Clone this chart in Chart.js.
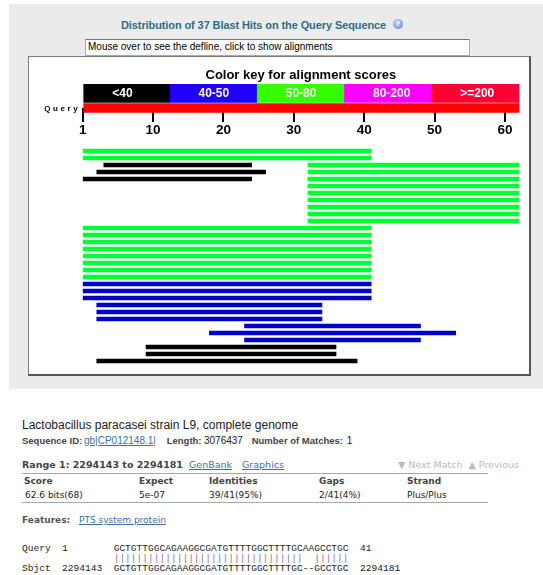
<!DOCTYPE html>
<html>
<head>
<meta charset="utf-8">
<script src="https://cdn.jsdelivr.net/npm/chart.js@4/dist/chart.umd.min.js"></script>
<style>
  body { margin: 0; width: 543px; height: 575px; overflow: hidden; background: #fff; position: relative;
         font-family: "Liberation Sans", Arial, sans-serif; }
  .a { position: absolute; white-space: pre; line-height: 1; }
  .v { font-family: "DejaVu Sans", Verdana, sans-serif; }
  .b { font-weight: bold; }
  .lnk { color: #3d6fa8; text-decoration: underline; }
  .mono { font-family: "Liberation Mono", "Courier New", monospace; font-size: 9.55px; color: #222; }
  #panel { position: absolute; left: 9px; top: 4px; width: 534px; height: 385px; background: #ebebeb; }
  #box { position: absolute; left: 28px; top: 56px; width: 503px; height: 320px; box-sizing: border-box; background: #fff;
         border-top: 1px solid #7a7a7a; border-left: 1px solid #7a7a7a; border-right: 2px solid #555; border-bottom: 2px solid #555; }
  #defline { position: absolute; left: 85px; top: 39px; width: 385px; height: 17px; box-sizing: border-box; background: #fff;
             border: 1px solid #aaa; border-top-color: #777; font-size: 10px; line-height: 1; padding: 2px 0 0 2px; white-space: nowrap; }
  #help { position: absolute; left: 392px; top: 18px; width: 12px; height: 12px; border-radius: 6px; box-sizing: border-box;
          background: radial-gradient(circle at 40% 35%, #c4d4f0, #5b7fc4); border: 1px solid #e8eefa;
          color: #fff; font: bold 8px "Liberation Sans", Arial, sans-serif; text-align: center; line-height: 10px; }
  #keyWrap { position: absolute; left: 29px; top: 57px; width: 500px; height: 88px; }
  #hitWrap { position: absolute; left: 29px; top: 145px; width: 500px; height: 225px; }
  .rule { position: absolute; left: 22px; width: 466px; height: 1px; background: #a8a8a8; }
</style>
</head>
<body>
<div id="panel"></div>
<div class="a b" style="left:121px;top:19.7px;font-size:11px;color:#2e6e83;letter-spacing:-0.1px;">Distribution of 37 Blast Hits on the Query Sequence</div>
<div id="help">?</div>
<div id="box"></div>
<div id="defline">Mouse over to see the defline, click to show alignments</div>
<div id="keyWrap"><canvas id="keyChart"></canvas></div>
<div id="hitWrap"><canvas id="hitChart"></canvas></div>

<div class="a" style="left:22px;top:419.1px;font-size:12px;color:#222;">Lactobacillus paracasei strain L9, complete genome</div>
<div class="a b" style="left:22px;top:436px;font-size:9.5px;color:#444;">Sequence ID:</div>
<div class="a lnk" style="left:84px;top:435.5px;font-size:10px;">gb|CP012148.1|</div>
<div class="a b" style="left:166.7px;top:436px;font-size:9.5px;color:#444;">Length:</div>
<div class="a" style="left:204px;top:435.5px;font-size:10px;color:#222;">3076437</div>
<div class="a b" style="left:251.7px;top:436px;font-size:9.5px;color:#444;">Number of Matches:</div>
<div class="a" style="left:346.7px;top:435.5px;font-size:10px;color:#222;">1</div>

<div class="a v b" style="left:22px;top:460.3px;font-size:9.5px;color:#444;">Range 1: 2294143 to 2294181</div>
<div class="a v lnk" style="left:189px;top:460.3px;font-size:9.5px;">GenBank</div>
<div class="a v lnk" style="left:242px;top:460.3px;font-size:9.5px;">Graphics</div>
<div class="a v" style="left:398px;top:460.3px;font-size:9.5px;color:#bbb;">▼ Next Match  ▲ Previous</div>
<div class="rule" style="top:473px;"></div>

<div class="a v b" style="left:24px;top:477.4px;font-size:9px;color:#444;">Score</div>
<div class="a v b" style="left:139px;top:477.4px;font-size:9px;color:#444;">Expect</div>
<div class="a v b" style="left:209px;top:477.4px;font-size:9px;color:#444;">Identities</div>
<div class="a v b" style="left:319px;top:477.4px;font-size:9px;color:#444;">Gaps</div>
<div class="a v b" style="left:407px;top:477.4px;font-size:9px;color:#444;">Strand</div>
<div class="a v" style="left:25px;top:490.7px;font-size:9px;color:#222;">62.6 bits(68)</div>
<div class="a v" style="left:139px;top:490.7px;font-size:9px;color:#222;">5e-07</div>
<div class="a v" style="left:209px;top:490.7px;font-size:9px;color:#222;">39/41(95%)</div>
<div class="a v" style="left:319px;top:490.7px;font-size:9px;color:#222;">2/41(4%)</div>
<div class="a v" style="left:407px;top:490.7px;font-size:9px;color:#222;">Plus/Plus</div>
<div class="rule" style="top:502px;"></div>

<div class="a v b" style="left:22px;top:515.9px;font-size:9px;color:#555;">Features:</div>
<div class="a v lnk" style="left:79px;top:515.9px;font-size:9px;">PTS system protein</div>

<div class="a mono" style="left:22px;top:544.4px;">Query  1        GCTGTTGGCAGAAGGCGATGTTTTGGCTTTTGCAAGCCTGC  41</div>
<div class="a mono" style="left:22px;top:553.7px;color:#8a7598;">                |||||||||||||||||||||||||||||||||  ||||||</div>
<div class="a mono" style="left:22px;top:563.7px;">Sbjct  2294143  GCTGTTGGCAGAAGGCGATGTTTTGGCTTTTGC--GCCTGC  2294181</div>

<script>
// query and score key
const queryLength = 62;
const axisTicks = [1, 10, 20, 30, 40, 50, 60];
const scoreKeys = ['<40', '40-50', '50-80', '80-200', '>=200'];
const keyRows = ['key', 'Query'];

// blast hits, one entry per drawn segment (query coordinates)
const hitRow   = [0, 1, 2, 2, 3, 3, 4, 4, 5, 6, 7, 8, 9, 10,
                  11, 12, 13, 14, 15, 16, 17, 18,
                  19, 20, 21, 22, 23, 24, 25, 26, 27, 28, 29, 30];
const hitStart = [1, 1, 4, 33, 3, 33, 1, 33, 33, 33, 33, 33, 33, 33,
                  1, 1, 1, 1, 1, 1, 1, 1,
                  1, 1, 1, 3, 3, 3, 24, 19, 24, 10, 10, 3];
const hitEnd   = [41, 41, 24, 62, 26, 62, 24, 62, 62, 62, 62, 62, 62, 62,
                  41, 41, 41, 41, 41, 41, 41, 41,
                  41, 41, 41, 34, 34, 34, 48, 53, 48, 36, 36, 39];
const hitScore = [2, 2, 0, 2, 0, 2, 0, 2, 2, 2, 2, 2, 2, 2,
                  2, 2, 2, 2, 2, 2, 2, 2,
                  1, 1, 1, 1, 1, 1, 1, 1, 1, 0, 0, 0];

const keyColors = ['#000000', '#2200ff', '#33ff00', '#ff00ff', '#ff0033'];
const hitColors = ['#000000', '#0000cc', '#00ff33', '#ff00ff', '#ff0033'];
const sans = '"Liberation Sans", Arial, sans-serif';

// white text on the key, spaced "Query" beside the query bar
const keyText = {
  id: 'keyText',
  afterDatasetsDraw(chart) {
    const ctx = chart.ctx;
    ctx.save();
    ctx.font = 'bold 12px ' + sans;
    ctx.fillStyle = '#fff';
    ctx.textAlign = 'left';
    ctx.textBaseline = 'middle';
    chart.getDatasetMeta(0).data.forEach((bar, i) => {
      const p = bar.getProps(['y', 'base'], true);
      ctx.fillText(scoreKeys[i], p.base + 28.5, p.y + 0.5);
    });
    const q = chart.getDatasetMeta(1).data[0];
    ctx.font = 'bold 8px ' + sans;
    ctx.fillStyle = '#000';
    ctx.textAlign = 'right';
    ctx.letterSpacing = '2.6px';
    ctx.fillText(keyRows[1], chart.chartArea.left - 2.4, q.y + 0.5);
    ctx.restore();
  }
};

const keyStep = queryLength / scoreKeys.length;
new Chart(document.getElementById('keyChart'), {
  type: 'bar',
  data: {
    labels: keyRows,
    datasets: [{
      label: 'key',
      data: scoreKeys.map((k, i) => ({x: [i * keyStep, (i + 1) * keyStep], y: keyRows[0]})),
      backgroundColor: keyColors,
      barThickness: 18,
      grouped: false,
      clip: false
    }, {
      label: 'Query',
      data: [{x: [0, queryLength], y: keyRows[1]}],
      backgroundColor: '#ff0000',
      barThickness: 9,
      grouped: false,
      clip: false
    }]
  },
  options: {
    indexAxis: 'y',
    responsive: true,
    maintainAspectRatio: false,
    animation: false,
    layout: {padding: {left: 53.7, right: 10, top: 0, bottom: 2}},
    plugins: {
      legend: {display: false},
      tooltip: {enabled: false},
      title: {display: true, text: 'Color key for alignment scores', color: '#000',
              font: {family: sans, size: 13, weight: 'bold'}, padding: {top: 11, bottom: 9.7}}
    },
    scales: {
      x: {
        type: 'linear', position: 'bottom', min: 0, max: queryLength,
        afterBuildTicks: axis => { axis.ticks = axisTicks.map(t => ({value: t === 1 ? 0 : t})); },
        afterFit: axis => { axis.height = 35; },
        grid: {drawOnChartArea: false, drawTicks: true, tickLength: 14, color: '#000', lineWidth: 2},
        border: {display: false},
        ticks: {color: '#000', padding: 0, maxRotation: 0, autoSkip: false,
                font: {family: sans, size: 13.5, weight: 'bold'},
                callback: v => v === 0 ? '1' : v}
      },
      y: {type: 'category', offset: false, display: false}
    }
  },
  plugins: [keyText]
});

// one dataset per score class, rows on a category axis
const rowCount = Math.max(...hitRow) + 1;
const rowLabels = Array.from({length: rowCount}, (_, i) => 'hit ' + (i + 1));
const hitSets = [];
scoreKeys.forEach((k, s) => {
  const data = rowLabels.map(() => null);
  let used = false;
  hitRow.forEach((r, h) => {
    if (hitScore[h] === s) { data[r] = [hitStart[h] - 1, hitEnd[h]]; used = true; }
  });
  if (used) hitSets.push({label: k, data: data, backgroundColor: hitColors[s], barThickness: 4, grouped: false});
});

new Chart(document.getElementById('hitChart'), {
  type: 'bar',
  data: {labels: rowLabels, datasets: hitSets},
  options: {
    indexAxis: 'y',
    responsive: true,
    maintainAspectRatio: false,
    animation: false,
    layout: {padding: {left: 53.7, right: 10, top: 2.5, bottom: 5.5}},
    plugins: {legend: {display: false}, tooltip: {enabled: false}},
    scales: {
      x: {type: 'linear', min: 0, max: queryLength, display: false},
      y: {type: 'category', display: false}
    }
  }
});
</script>
</body>
</html>
